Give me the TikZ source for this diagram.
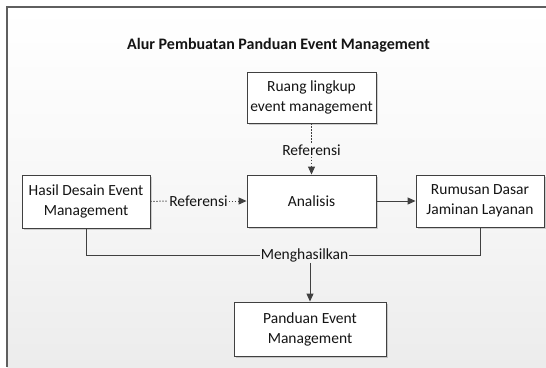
\documentclass[tikz,border=0pt]{standalone}
\usepackage{fontspec}
\setmainfont{Carlito}
\usetikzlibrary{arrows.meta,shadows}

\definecolor{linegray}{RGB}{64,64,64}
\definecolor{framegray}{RGB}{95,95,95}
\definecolor{textdark}{RGB}{20,20,20}
\definecolor{bgbottom}{RGB}{236,236,236}

\tikzset{
  procbox/.style={draw=linegray, line width=0.9pt, fill=white, align=center,
    text=textdark, inner sep=0pt, font=\fontsize{15.5}{20}\selectfont,
    drop shadow={shadow xshift=1.5pt, shadow yshift=-1.5pt, opacity=0.35, fill=gray}},
  flowlabel/.style={text=textdark, inner sep=1pt, font=\fontsize{15.5}{18}\selectfont},
  refline/.style={draw=linegray, line width=1pt, dash pattern=on 1.2pt off 1.8pt},
  flowline/.style={draw=linegray, line width=1pt},
  tip/.style={-{Triangle[length=8pt,width=7pt]}},
}

\begin{document}
\begin{tikzpicture}[x=1pt, y=-1pt]
  \useasboundingbox (0,0) rectangle (546,367);

  % page background with soft vertical gradient and frame
  \shade[top color=white, bottom color=bgbottom, middle color=white!60!bgbottom]
    (7,7) rectangle (546,367);
  \draw[framegray, line width=1.8pt] (7,367) -- (7,7) -- (546,7);

  % title
  \node[font=\bfseries\fontsize{16}{19}\selectfont, text=textdark] (title) at (278.5,45)
    {Alur Pembuatan Panduan Event Management};

  % process boxes
  \node[procbox, minimum width=129pt, minimum height=51pt] (ruang) at (311.5,97.5)
    {Ruang lingkup\\event management};
  \node[procbox, minimum width=129pt, minimum height=52pt] (analisis) at (311.5,201)
    {Analisis};
  \node[procbox, minimum width=128pt, minimum height=53pt] (hasil) at (86,201.5)
    {Hasil Desain Event\\Management};
  \node[procbox, minimum width=128pt, minimum height=52pt] (rumusan) at (480,201)
    {Rumusan Dasar\\Jaminan Layanan};
  \node[procbox, minimum width=152pt, minimum height=54pt] (panduan) at (310,329)
    {Panduan Event\\Management};

  % connector labels
  \node[flowlabel] (refv) at (311.5,150) {Referensi};
  \node[flowlabel] (refh) at (198.5,201) {Referensi};
  \node[flowlabel] (hasilkan) at (304.5,255) {Menghasilkan};

  % reference inputs
  \draw[refline] (ruang.south) -- (refv.north);
  \draw[refline, tip] (refv.south) -- (analisis.north);
  \draw[refline] (hasil.east) -- (refh.west);
  \draw[refline, tip] (refh.east) -- (analisis.west);

  % analysis result
  \draw[flowline, tip] (analisis.east) -- (rumusan.west);

  % combined output
  \draw[flowline] (hasil.south) |- (hasilkan.west);
  \draw[flowline] (hasilkan.east) -| (rumusan.south);
  \draw[flowline, tip] (panduan.north |- hasilkan.south) -- (panduan.north);
\end{tikzpicture}
\end{document}
